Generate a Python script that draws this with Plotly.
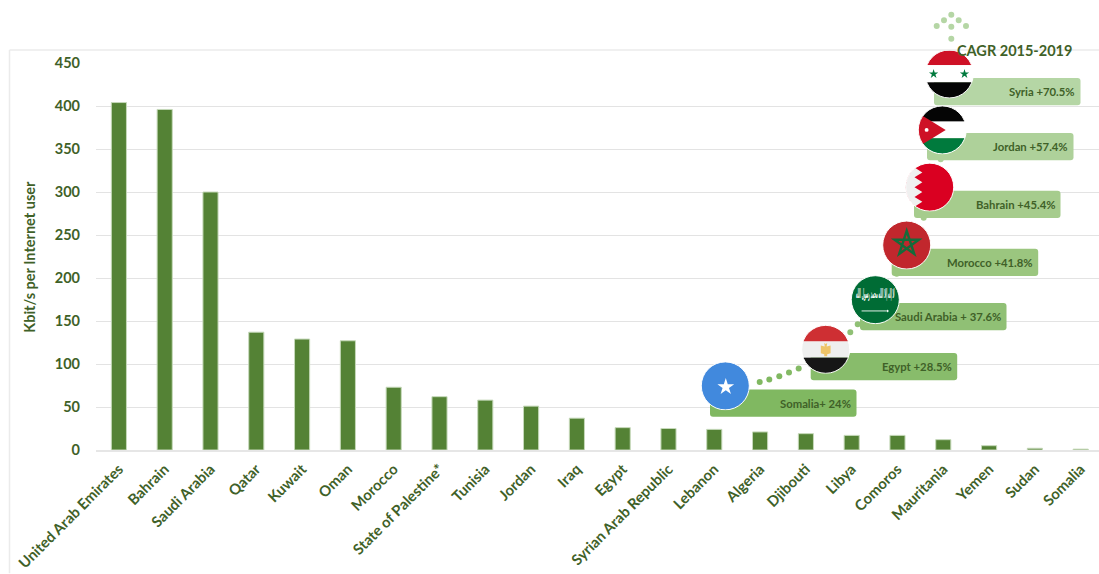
import base64, math
import plotly.graph_objects as go

countries = ["United Arab Emirates", "Bahrain", "Saudi Arabia", "Qatar", "Kuwait", "Oman", "Morocco",
             "State of Palestine*", "Tunisia", "Jordan", "Iraq", "Egypt", "Syrian Arab Republic", "Lebanon",
             "Algeria", "Djibouti", "Libya", "Comoros", "Mauritania", "Yemen", "Sudan", "Somalia"]
kbit_per_user = [404, 396, 300, 137, 129, 127, 73, 62, 58, 51, 37, 26, 25, 24, 21, 19, 17, 17, 12, 5, 2, 1]
y_ticks = [0, 50, 100, 150, 200, 250, 300, 350, 400, 450]
cagr_labels = ["Somalia+ 24%", "Egypt +28.5%", "Saudi Arabia + 37.6%", "Morocco +41.8%",
               "Bahrain +45.4%", "Jordan +57.4%", "Syria +70.5%"]

W, H = 1099, 574
L, R, T, B = 96, 0, 63, 123.5
X_RANGE = [-0.5, 21.4]
Y_RANGE = [0, 450]
FONT = "Lato, Carlito, Calibri, sans-serif"
TXT = "#3f6128"


def px(x):
    return (x - L) / (W - L - R)


def py(y):
    return (H - B - y) / (H - T - B)


def dx(x):
    return X_RANGE[0] + px(x) * (X_RANGE[1] - X_RANGE[0])


def dy(y):
    return Y_RANGE[0] + py(y) * (Y_RANGE[1] - Y_RANGE[0])


def star_pts(cx, cy, r, inner=0.382):
    pts = []
    for i in range(10):
        a = -math.pi / 2 + i * math.pi / 5
        rr = r if i % 2 == 0 else r * inner
        pts.append(f"{cx + rr * math.cos(a):.2f},{cy + rr * math.sin(a):.2f}")
    return " ".join(pts)


def pentagram(cx, cy, r):
    p = []
    for i in range(5):
        a = -math.pi / 2 + i * 4 * math.pi / 5
        p.append(f"{cx + r * math.cos(a):.2f},{cy + r * math.sin(a):.2f}")
    return " ".join(p)


def flag_svg(body):
    s = ('<svg xmlns="http://www.w3.org/2000/svg" width="300" height="300" viewBox="0 0 100 100">'
         '<defs><clipPath id="c"><circle cx="50" cy="50" r="49"/></clipPath></defs>'
         f'<g clip-path="url(#c)">{body}</g>'
         '<circle cx="50" cy="50" r="49" fill="none" stroke="#ffffff" stroke-width="2"/></svg>')
    return "data:image/svg+xml;base64," + base64.b64encode(s.encode("utf-8")).decode()


FLAGS = {
    "somalia": f'<rect width="100" height="100" fill="#4189dd"/><polygon points="{star_pts(51, 52, 18)}" fill="#fff"/>',
    "egypt": '<rect width="100" height="34" fill="#ce2f33"/><rect y="34" width="100" height="33" fill="#efefef"/>'
             '<rect y="67" width="100" height="33" fill="#161616"/>'
             '<path d="M47 37 L50 39 L53 37 L52 44 L60 42 L60 58 L53 60 L53 64 L47 64 L47 60 L40 58 L40 42 L48 44 Z" fill="#eec468"/>',
    "saudi": '<rect width="100" height="100" fill="#006c35"/>'
             '<text transform="translate(50,46) scale(0.42,2.0)" text-anchor="middle" font-family="DejaVu Sans" '
             'font-weight="bold" font-size="13" fill="#fff">لا إله إلا الله محمد رسول الله</text>'
             '<path d="M22 73 L76 73" stroke="#fff" stroke-width="1.8"/><path d="M74 70 L78 73 L74 76 Z" fill="#fff"/>',
    "morocco": f'<rect width="100" height="100" fill="#c1272d"/><polygon points="{pentagram(50, 47, 26)}" '
               'fill="none" stroke="#146b3a" stroke-width="5"/>',
    "bahrain": '<rect width="100" height="100" fill="#da0021"/>'
               '<path d="M0 0 L30 0 L19 10 L35 20 L19 30 L35 40 L19 50 L35 60 L19 70 L35 80 L19 90 L30 100 L0 100 Z" fill="#f0f0f0"/>',
    "jordan": '<rect width="100" height="33" fill="#050505"/><rect y="33" width="100" height="34" fill="#ffffff"/>'
              '<rect y="67" width="100" height="33" fill="#007a3d"/>'
              '<polygon points="0,15 57,50 0,85" fill="#ce1126"/><circle cx="18" cy="50" r="4" fill="#fff"/>',
    "syria": '<rect width="100" height="32" fill="#ce1126"/><rect y="32" width="100" height="35" fill="#ffffff"/>'
             '<rect y="67" width="100" height="33" fill="#050505"/>'
             f'<polygon points="{star_pts(18, 50, 10)}" fill="#007a3d"/><polygon points="{star_pts(81, 50, 10)}" fill="#007a3d"/>',
}

# Decoration geometry, in window pixels
flag_boxes = [("somalia", 725.3, 386.3), ("egypt", 825.7, 349.7), ("saudi", 875.3, 300),
              ("morocco", 906.7, 245.3), ("bahrain", 929.7, 187.3), ("jordan", 942.3, 130), ("syria", 949.3, 74)]
label_boxes = [(710, 390, "#80b861"), (810.7, 353.3, "#88bc6b"), (860, 303.3, "#90c075"),
               (891.7, 249, "#9bc67f"), (914, 191, "#a6cc8d"), (927, 133, "#aed19a"), (934, 78, "#b5d6a5")]
dots = [(759.7, 382.3, "#80b861"), (769.3, 380, "#80b861"), (779.3, 376.7, "#80b861"), (789, 373, "#84ba65"),
        (798.7, 369, "#84ba65"), (850.3, 332.7, "#90c075"), (857.7, 324.7, "#90c075"), (896.7, 274, "#9bc67f"),
        (923.7, 218, "#a6cc8d"), (940.7, 159.3, "#aed19a"), (948, 101.7, "#b5d6a5"),
        (951.3, 38.7, "#b5d6a5"), (951.3, 26.7, "#b5d6a5"), (936.7, 26, "#b5d6a5"), (966, 26, "#b5d6a5"),
        (944, 20.3, "#b5d6a5"), (958.7, 20.3, "#b5d6a5"), (951.3, 14.7, "#b5d6a5")]

BOX_W, BOX_H, RAD = 146.5, 27.3, 3

shapes = [
    dict(type="line", xref="paper", yref="paper", x0=px(9.5), x1=px(9.5), y0=py(50), y1=py(574),
         line=dict(color="#ebebeb", width=1.5)),
    dict(type="line", xref="paper", yref="paper", x0=px(9.5), x1=px(1099), y0=py(50), y1=py(50),
         line=dict(color="#ebebeb", width=1.5)),
]
annotations = []

for (x, y, col), text in zip(label_boxes, cagr_labels):
    x1, y1 = x + BOX_W, y + BOX_H
    p = (f"M {dx(x + RAD)} {dy(y)} L {dx(x1 - RAD)} {dy(y)} Q {dx(x1)} {dy(y)} {dx(x1)} {dy(y + RAD)} "
         f"L {dx(x1)} {dy(y1 - RAD)} Q {dx(x1)} {dy(y1)} {dx(x1 - RAD)} {dy(y1)} "
         f"L {dx(x + RAD)} {dy(y1)} Q {dx(x)} {dy(y1)} {dx(x)} {dy(y1 - RAD)} "
         f"L {dx(x)} {dy(y + RAD)} Q {dx(x)} {dy(y)} {dx(x + RAD)} {dy(y)} Z")
    shapes.append(dict(type="path", path=p, xref="x", yref="y", fillcolor=col,
                       line=dict(width=0), layer="between"))
    annotations.append(dict(xref="paper", yref="paper", x=px(x1 - 3.5), y=py(y + BOX_H / 2), text=f"<b>{text}</b>",
                            showarrow=False, xanchor="right", yanchor="middle",
                            font=dict(family=FONT, size=11.3, color=TXT)))

for x, y, col in dots:
    r = 3
    if y > T + r:
        shapes.append(dict(type="circle", xref="x", yref="y", x0=dx(x - r), x1=dx(x + r), y0=dy(y - r), y1=dy(y + r),
                           fillcolor=col, line=dict(width=0), layer="between"))
    else:
        shapes.append(dict(type="circle", xref="paper", yref="paper", x0=px(x - r), x1=px(x + r), y0=py(y - r),
                           y1=py(y + r), fillcolor=col, line=dict(width=0), layer="above"))

annotations.append(dict(xref="paper", yref="paper", x=px(1014.5), y=py(50), text="<b>CAGR 2015-2019</b>",
                        showarrow=False, xanchor="center", yanchor="middle",
                        font=dict(family=FONT, size=14.5, color=TXT)))
annotations.append(dict(xref="paper", yref="paper", x=px(30), y=py(257), text="<b>Kbit/s per Internet user</b>",
                        showarrow=False, textangle=-90, xanchor="center", yanchor="middle",
                        font=dict(family=FONT, size=14.5, color=TXT)))

images = []
FR = 24.5
for name, cx, cy in flag_boxes:
    images.append(dict(source=flag_svg(FLAGS[name]), xref="paper", yref="paper", x=px(cx - FR), y=py(cy - FR),
                       sizex=2 * FR / (W - L - R), sizey=2 * FR / (H - T - B), xanchor="left", yanchor="top",
                       sizing="stretch", layer="above"))

fig = go.Figure(go.Bar(x=countries, y=kbit_per_user, width=0.33,
                       marker=dict(color="#548235", line=dict(color="#c6d9ba", width=1))))
fig.update_layout(
    width=W, height=H, margin=dict(l=L, r=R, t=T, b=B, pad=0), autosize=False,
    paper_bgcolor="#ffffff", plot_bgcolor="#ffffff", showlegend=False,
    shapes=shapes, annotations=annotations, images=images,
    font=dict(family=FONT, color=TXT),
)
fig.update_xaxes(type="category", categoryorder="array", categoryarray=countries, range=X_RANGE,
                 tickangle=-45, tickfont=dict(family=FONT, size=14.8, color=TXT, weight="bold"),
                 showgrid=False, ticks="", showline=True, linecolor="#e6e6e6", linewidth=1.5,
                 ticklabelstandoff=3, automargin=False)
fig.update_yaxes(range=Y_RANGE, tickvals=y_ticks, tickfont=dict(family=FONT, size=14.5, color=TXT, weight="bold"),
                 showgrid=True, gridcolor="#e3e3e3", gridwidth=1.2, zeroline=False, showline=False, ticks="",
                 ticklen=0, automargin=False, ticklabelstandoff=15)

fig.write_html("out.html", config=dict(displayModeBar=False),
               post_script="document.body.style.margin='0';document.body.style.overflow='hidden';")
